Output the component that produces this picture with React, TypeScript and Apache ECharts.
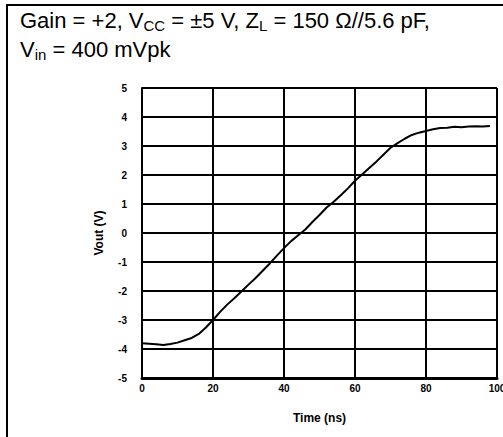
import React, { useEffect, useRef } from "react";
import * as echarts from "echarts";

const timeNs = [0, 2, 4, 6, 8, 10, 12, 14, 16, 18, 20, 22, 24, 26, 28, 30, 32, 34, 36, 38, 40, 42, 44, 46, 48, 50, 52, 54, 56, 58, 60, 62, 64, 66, 68, 70, 72, 74, 76, 78, 80, 82, 84, 86, 88, 90, 92, 94, 96, 98];
const voutV = [-3.8, -3.82, -3.84, -3.86, -3.83, -3.78, -3.7, -3.62, -3.48, -3.26, -3.0, -2.72, -2.47, -2.25, -2.02, -1.78, -1.55, -1.3, -1.05, -0.78, -0.52, -0.28, -0.08, 0.12, 0.38, 0.62, 0.88, 1.08, 1.3, 1.54, 1.8, 2.02, 2.24, 2.46, 2.7, 2.94, 3.1, 3.25, 3.38, 3.46, 3.52, 3.58, 3.62, 3.63, 3.66, 3.65, 3.67, 3.68, 3.67, 3.69];
const xTicks = [0, 20, 40, 60, 80, 100];
const yTicks = [-5, -4, -3, -2, -1, 0, 1, 2, 3, 4, 5];

const FONT = "'Liberation Sans', Arial, Helvetica, sans-serif";

export default function App() {
  const ref = useRef<HTMLDivElement>(null);
  useEffect(() => {
    if (!ref.current) return;
    const chart = echarts.init(ref.current, null, { renderer: "svg" });
    const data = timeNs.map((t, i) => [t, voutV[i]]);
    const rich = {
      n: { fontSize: 22, fontFamily: FONT, color: "#000" },
      s: { fontSize: 15, fontFamily: FONT, color: "#000", padding: [10, 0, 0, 0] },
    };
    chart.setOption({
      animation: false,
      backgroundColor: "#fff",
      grid: {
        left: 142,
        top: 88,
        width: 355,
        height: 290,
        containLabel: false,
        outerBoundsMode: "none",
      },
      xAxis: {
        type: "value",
        min: xTicks[0],
        max: xTicks[xTicks.length - 1],
        interval: 20,
        name: "Time (ns)",
        nameLocation: "middle",
        nameGap: 34,
        nameTextStyle: { fontSize: 12, fontWeight: "bold", fontFamily: FONT, color: "#000" },
        axisLine: { show: true, onZero: false, lineStyle: { color: "#000", width: 3 } },
        axisTick: { show: false },
        axisLabel: { fontSize: 10, fontWeight: "bold", fontFamily: FONT, color: "#000", margin: 5 },
        splitLine: { show: true, lineStyle: { color: "#000", width: 2 } },
      },
      yAxis: {
        type: "value",
        min: yTicks[0],
        max: yTicks[yTicks.length - 1],
        interval: 1,
        name: "Vout (V)",
        nameLocation: "middle",
        nameGap: 37,
        nameTextStyle: { fontSize: 12, fontWeight: "bold", fontFamily: FONT, color: "#000" },
        axisLine: { show: true, onZero: false, lineStyle: { color: "#000", width: 2 } },
        axisTick: { show: false },
        axisLabel: { fontSize: 10, fontWeight: "bold", fontFamily: FONT, color: "#000", margin: 15 },
        splitLine: { show: true, lineStyle: { color: "#000", width: 2 } },
      },
      graphic: [
        {
          type: "rect",
          silent: true,
          shape: { x: 7, y: 5, width: 700, height: 700 },
          style: { fill: "none", stroke: "#000", lineWidth: 2 },
        },
        {
          type: "text",
          left: 20,
          top: 9,
          style: {
            text: "{n|Gain = +2, V}{s|CC}{n| = ±5 V, Z}{s|L}{n| = 150 Ω//5.6 pF,}",
            rich,
          },
        },
        {
          type: "text",
          left: 20,
          top: 38,
          style: {
            text: "{n|V}{s|in}{n| = 400 mVpk}",
            rich,
          },
        },
      ],
      series: [
        {
          type: "line",
          data,
          symbol: "none",
          lineStyle: { color: "#000", width: 2 },
        },
      ],
    });
    return () => chart.dispose();
  }, []);
  return (
    <div
      ref={ref}
      style={{ position: "fixed", left: 0, top: 0, width: 503, height: 437, background: "#fff" }}
    />
  );
}
